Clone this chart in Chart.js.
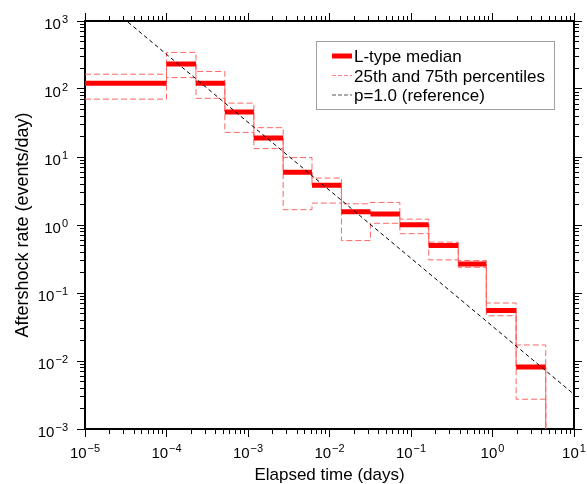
<!DOCTYPE html>
<html>
<head>
<meta charset="utf-8">
<script src="https://cdn.jsdelivr.net/npm/chart.js@4/dist/chart.umd.min.js"></script>
<style>
  html, body { margin: 0; padding: 0; background: #fff; }
  #wrap { width: 587px; height: 484px; }
</style>
</head>
<body>
<div id="wrap"><canvas id="rateChart"></canvas></div>
<script>
// bin edges in days, values in events/day
const binEdges = [1e-5, 1e-4, 2.3e-4, 5.2e-4, 1.18e-3, 2.7e-3, 6.1e-3, 0.014, 0.0318, 0.073, 0.165, 0.38, 0.84, 1.95, 4.5];
const medianRate = [122, 233, 121, 46, 19, 5.96, 3.84, 1.57, 1.45, 1.01, 0.50, 0.267, 0.0555, 0.00817];
const p75Rate = [165, 345, 181, 62, 27, 9.8, 4.9, 2.05, 2.15, 1.22, 0.56, 0.30, 0.0713, 0.0172];
const p25Rate = [71, 147, 73, 23, 13.3, 1.68, 2.1, 0.59, 1.06, 0.745, 0.307, 0.239, 0.0463, 0.00274];
const refTime = [1e-5, 10];
const refRate = [3240, 0.00324];
const xExponents = [-5, -4, -3, -2, -1, 0, 1];
const yExponents = [-3, -2, -1, 0, 1, 2, 3];
const legendLabels = ['L-type median', '25th and 75th percentiles', 'p=1.0 (reference)'];

const X_MIN = 1e-5, X_MAX = 10, Y_MIN = 1e-3, Y_MAX = 1e3;
const FONT = '"Liberation Sans", Arial, Helvetica, sans-serif';
const RED = '#ff0000';
const LIGHT_RED = '#ff6666';

// stepped outline; after the last bin the rate is zero, so it drops to the axis floor
function stepPoints(values) {
  const pts = values.map((v, i) => ({ x: binEdges[i], y: v }));
  pts.push({ x: binEdges[binEdges.length - 1], y: Y_MIN });
  return pts;
}

// one flat segment per bin, separated by gaps
function barPoints(values) {
  const pts = [];
  values.forEach((v, i) => {
    pts.push({ x: binEdges[i], y: v }, { x: binEdges[i + 1], y: v }, { x: binEdges[i + 1], y: null });
  });
  return pts;
}

function logTicks(exps) {
  const ticks = [];
  exps.forEach((e, k) => {
    ticks.push({ value: Math.pow(10, e), major: true });
    if (k < exps.length - 1) {
      for (let m = 2; m <= 9; m++) ticks.push({ value: m * Math.pow(10, e), major: false });
    }
  });
  return ticks;
}

function axis(position, exps, size, min, max, title) {
  const outerFirst = position === 'top' || position === 'left';
  const opts = {
    type: 'logarithmic', position, min, max,
    border: { display: true, color: '#000', width: 2 },
    grid: {
      drawOnChartArea: false, drawTicks: true, tickLength: 8, tickColor: '#000', tickWidth: 1,
      tickBorderDash: ctx => (ctx.tick && ctx.tick.major) ? [] : (outerFirst ? [0, 3, 4, 100] : [4, 100])
    },
    ticks: { autoSkip: false, padding: 0, callback: () => '' },
    afterBuildTicks: s => { s.ticks = logTicks(exps); },
    afterFit: s => { if (s.isHorizontal()) s.height = size; else s.width = size; }
  };
  if (title) opts.title = title;
  return opts;
}

function drawPower(ctx, exp, x, baseline, align) {
  const base = '10';
  const sup = exp < 0 ? '\u2212' + (-exp) : String(exp);
  ctx.font = '15px ' + FONT;
  const wb = ctx.measureText(base).width;
  ctx.font = '11px ' + FONT;
  const ws = ctx.measureText(sup).width;
  const total = wb + 1 + ws;
  const left = align === 'center' ? x - total / 2 : x - total;
  ctx.textAlign = 'left';
  ctx.textBaseline = 'alphabetic';
  ctx.font = '15px ' + FONT;
  ctx.fillText(base, left, baseline);
  ctx.font = '11px ' + FONT;
  ctx.fillText(sup, left + wb + 1, baseline - 5.5);
}

const labelsAndLegend = {
  id: 'labelsAndLegend',
  afterDraw(chart) {
    const ctx = chart.ctx;
    const area = chart.chartArea;
    const xs = chart.scales.x, ys = chart.scales.y;
    ctx.save();
    ctx.fillStyle = '#000';
    xExponents.forEach(e => drawPower(ctx, e, xs.getPixelForValue(Math.pow(10, e)), area.bottom + 28.5, 'center'));
    yExponents.forEach(e => drawPower(ctx, e, area.left - 17, ys.getPixelForValue(Math.pow(10, e)) + 7.5, 'right'));

    // legend box
    const bw = 238, bh = 68;
    const bx = area.right - 20 - bw, by = area.top + 20;
    ctx.fillStyle = '#fff';
    ctx.fillRect(bx, by, bw, bh);
    ctx.strokeStyle = '#a0a0a0';
    ctx.lineWidth = 1;
    ctx.strokeRect(bx + 0.5, by + 0.5, bw, bh);
    const samples = [
      { color: RED, width: 5, dash: [] },
      { color: '#ff8080', width: 1, dash: [4, 2] },
      { color: '#555', width: 1, dash: [4, 2] }
    ];
    ctx.font = '17px ' + FONT;
    ctx.textAlign = 'left';
    ctx.textBaseline = 'alphabetic';
    legendLabels.forEach((text, i) => {
      const ly = by + 15 + i * 19.5;
      const s = samples[i];
      ctx.beginPath();
      ctx.strokeStyle = s.color;
      ctx.lineWidth = s.width;
      ctx.setLineDash(s.dash);
      ctx.moveTo(bx + 16, ly);
      ctx.lineTo(bx + 36, ly);
      ctx.stroke();
      ctx.setLineDash([]);
      ctx.fillStyle = '#000';
      ctx.fillText(text, bx + 38, ly + 6);
    });
    ctx.restore();
  }
};

const ctx = document.getElementById('rateChart').getContext('2d');
new Chart(ctx, {
  type: 'line',
  data: {
    datasets: [
      {
        label: legendLabels[2],
        data: refTime.map((t, i) => ({ x: t, y: refRate[i] })),
        borderColor: '#000', borderWidth: 1, borderDash: [4, 3]
      },
      {
        label: legendLabels[0],
        data: barPoints(medianRate),
        borderColor: RED, borderWidth: 5, spanGaps: false
      },
      {
        label: 'median step',
        data: stepPoints(medianRate),
        borderColor: LIGHT_RED, borderWidth: 1, stepped: 'before'
      },
      {
        label: '75th percentile',
        data: stepPoints(p75Rate),
        borderColor: LIGHT_RED, borderWidth: 1, borderDash: [6, 3], stepped: 'before'
      },
      {
        label: '25th percentile',
        data: stepPoints(p25Rate),
        borderColor: LIGHT_RED, borderWidth: 1, borderDash: [6, 3], stepped: 'before'
      }
    ]
  },
  options: {
    responsive: true,
    maintainAspectRatio: false,
    animation: false,
    devicePixelRatio: 1,
    layout: { padding: 0 },
    elements: {
      point: { radius: 0, hoverRadius: 0 },
      line: { tension: 0, fill: false, borderCapStyle: 'butt' }
    },
    scales: {
      x: axis('bottom', xExponents, 55, X_MIN, X_MAX, {
        display: true, text: 'Elapsed time (days)', color: '#000',
        font: { family: FONT, size: 17, lineHeight: 1 }, padding: { top: 0, bottom: 0 }
      }),
      x2: axis('top', xExponents, 21, X_MIN, X_MAX),
      y: axis('left', yExponents, 85, Y_MIN, Y_MAX, {
        display: true, text: 'Aftershock rate (events/day)', color: '#000',
        font: { family: FONT, size: 18, lineHeight: 1 }, padding: { top: 14, bottom: 0 }
      }),
      y2: axis('right', yExponents, 13, Y_MIN, Y_MAX)
    },
    plugins: {
      legend: { display: false },
      tooltip: { enabled: false }
    }
  },
  plugins: [labelsAndLegend]
});
</script>
</body>
</html>
